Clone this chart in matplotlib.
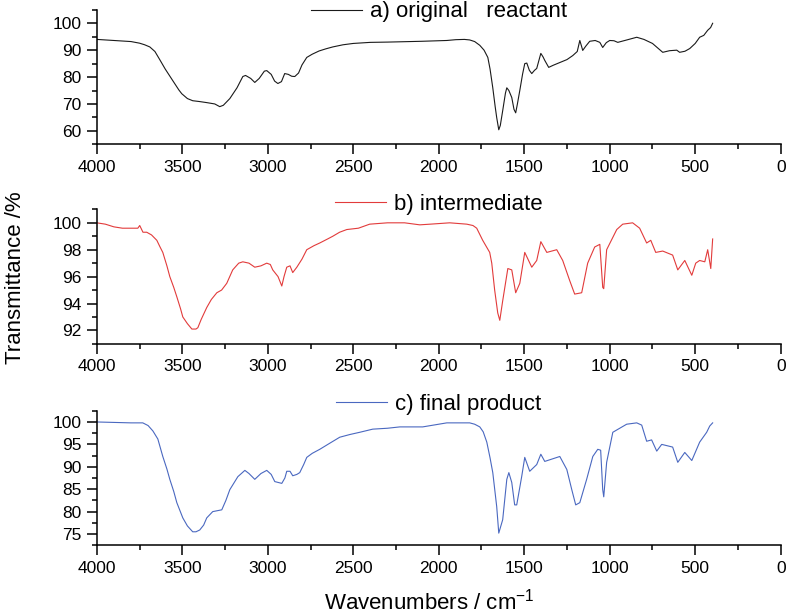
import numpy as np
import matplotlib
matplotlib.use("Agg")
import matplotlib.pyplot as plt
from matplotlib.ticker import MultipleLocator

plt.rcParams['font.family'] = ['Liberation Sans', 'DejaVu Sans']
plt.rcParams['mathtext.fontset'] = 'custom'
plt.rcParams['mathtext.rm'] = 'Liberation Sans'
plt.rcParams['mathtext.default'] = 'regular'

# Spectrum a) original reactant
wn_a = [4000, 3900, 3800, 3750, 3720, 3690, 3660, 3632, 3600, 3556, 3520, 3503, 3470,
        3439, 3400, 3357, 3310, 3281, 3260, 3222, 3180, 3146, 3130, 3100, 3076, 3050,
        3020, 3006, 2980, 2960, 2941, 2920, 2901, 2880, 2860, 2842, 2820, 2800, 2772,
        2740, 2700, 2660, 2620, 2560, 2500, 2400, 2300, 2100, 1953, 1900, 1850, 1819,
        1790, 1760, 1735, 1713, 1700, 1684, 1670, 1661, 1649, 1640, 1626, 1610, 1602,
        1590, 1573, 1560, 1550, 1540, 1526, 1510, 1497, 1485, 1470, 1456, 1440, 1427,
        1415, 1403, 1390, 1380, 1357, 1330, 1292, 1250, 1216, 1190, 1175, 1165, 1158,
        1140, 1117, 1085, 1058, 1041, 1020, 1000, 975, 953, 900, 842, 800, 750, 690,
        650, 608, 591, 560, 532, 500, 474, 450, 427, 410, 398]
tr_a = [94.0, 93.6, 93.2, 92.6, 92.0, 91.2, 89.5, 86.5, 83.0, 78.7, 75.2, 73.8, 72.0,
        71.2, 70.9, 70.5, 70.0, 69.0, 69.5, 72.0, 76.0, 80.2, 80.6, 79.5, 78.0, 79.5,
        82.2, 82.4, 81.0, 78.5, 77.6, 78.3, 81.3, 81.0, 80.3, 80.2, 81.5, 84.5, 87.3,
        88.5, 89.7, 90.5, 91.2, 92.0, 92.5, 92.9, 93.0, 93.3, 93.6, 93.9, 94.0, 93.8,
        93.2, 91.8, 90.0, 87.3, 83.0, 76.0, 69.0, 64.9, 60.4, 62.0, 67.5, 74.0, 76.0,
        75.0, 72.4, 68.0, 66.7, 70.0, 75.0, 81.0, 85.0, 85.2, 82.5, 81.3, 82.5, 83.2,
        86.0, 88.8, 87.5, 86.2, 83.6, 84.4, 85.4, 86.5, 88.0, 89.5, 93.6, 91.5, 89.9,
        91.5, 93.3, 93.6, 92.9, 91.0, 92.8, 93.6, 93.5, 92.9, 93.8, 94.8, 94.0, 92.5, 89.2,
        89.8, 90.0, 89.2, 89.6, 90.6, 92.5, 94.8, 95.5, 97.4, 98.4, 100.0]

# Spectrum b) intermediate
wn_b = [4000, 3950, 3900, 3850, 3800, 3760, 3749, 3730, 3708, 3680, 3649, 3630, 3614,
        3590, 3573, 3550, 3532, 3510, 3497, 3470, 3444, 3420, 3409, 3390, 3357, 3330,
        3298, 3270, 3240, 3205, 3170, 3146, 3110, 3076, 3040, 3006, 2985, 2971, 2940,
        2918, 2905, 2889, 2870, 2854, 2830, 2800, 2772, 2730, 2696, 2650, 2620, 2580,
        2538, 2470, 2404, 2300, 2200, 2111, 2050, 1936, 1836, 1800, 1778, 1743, 1702,
        1690, 1673, 1655, 1643, 1626, 1596, 1573, 1550, 1526, 1497, 1456, 1427, 1403,
        1368, 1310, 1275, 1234, 1205, 1164, 1129, 1088, 1058, 1041, 1035, 1018, 959,
        924, 866, 825, 784, 760, 731, 690, 632, 602, 561, 520, 497, 474, 444, 427, 409,
        398]
tr_b = [100.0, 99.9, 99.7, 99.6, 99.6, 99.6, 99.8, 99.3, 99.3, 99.1, 98.7, 98.2, 97.8,
        96.8, 96.0, 95.2, 94.5, 93.6, 93.0, 92.5, 92.1, 92.1, 92.2, 92.8, 93.7, 94.3,
        94.8, 95.0, 95.5, 96.5, 97.0, 97.1, 97.0, 96.7, 96.8, 97.0, 96.9, 96.5, 96.0,
        95.3, 96.0, 96.7, 96.8, 96.3, 96.7, 97.3, 98.0, 98.3, 98.5, 98.8, 99.0, 99.3,
        99.5, 99.6, 99.9, 100.0, 100.0, 99.85, 99.9, 100.0, 99.9, 99.8, 99.6, 98.7, 97.8,
        97.0, 95.0, 93.3, 92.75, 94.2, 96.6, 96.5, 94.8, 95.5, 97.8, 96.7, 97.2, 98.6,
        97.8, 98.0, 97.2, 95.7, 94.7, 94.8, 97.0, 98.2, 98.4, 95.2, 95.1, 98.0, 99.5,
        99.9, 100.0, 99.6, 98.5, 98.7, 97.8, 97.9, 97.6, 96.5, 97.2, 96.1, 97.0, 97.2,
        97.1, 98.0, 96.6, 98.8]

# Spectrum c) final product
wn_c = [4000, 3900, 3800, 3731, 3700, 3672, 3643, 3614, 3590, 3573, 3550, 3532, 3497,
        3470, 3439, 3420, 3398, 3375, 3357, 3322, 3269, 3245, 3222, 3175, 3134, 3110,
        3076, 3040, 3006, 2980, 2959, 2918, 2900, 2889, 2870, 2854, 2830, 2813, 2790,
        2772, 2740, 2696, 2640, 2579, 2520, 2462, 2386, 2300, 2228, 2094, 2000, 1953,
        1819, 1790, 1760, 1740, 1719, 1700, 1684, 1661, 1649, 1626, 1602, 1590, 1573,
        1556, 1544, 1515, 1497, 1468, 1427, 1403, 1380, 1292, 1251, 1222, 1199, 1175,
        1135, 1099, 1070, 1053, 1041, 1035, 1018, 982, 901, 842, 813, 784, 755, 725,
        696, 632, 602, 561, 520, 474, 433, 415, 398]
tr_c = [100.0, 99.9, 99.8, 99.8, 99.2, 98.0, 96.2, 92.3, 89.5, 87.2, 84.5, 82.0, 78.6,
        76.8, 75.5, 75.5, 75.9, 77.0, 78.6, 80.0, 80.4, 82.5, 84.9, 87.8, 89.2, 88.5,
        87.2, 88.5, 89.2, 88.3, 86.7, 86.3, 87.5, 89.0, 89.0, 88.0, 88.3, 88.7, 90.5,
        92.1, 93.0, 93.9, 95.2, 96.6, 97.2, 97.7, 98.4, 98.6, 98.9, 98.9, 99.5, 99.8,
        99.8, 99.5, 98.9, 97.8, 95.5, 92.0, 88.7, 81.1, 75.2, 78.2, 87.2, 88.7, 86.5,
        81.5, 81.5, 87.8, 92.1, 89.0, 90.5, 92.8, 91.2, 92.3, 89.4, 84.9, 81.5, 82.0,
        87.2, 92.3, 93.9, 93.7, 84.9, 83.3, 91.0, 97.7, 99.5, 99.8, 99.3, 95.7, 96.0,
        93.5, 95.0, 94.4, 91.0, 93.2, 91.4, 95.5, 97.7, 99.1, 99.8]

labels = ["a) original   reactant", "b) intermediate", "c) final product"]
colors = ["#1a1a1a", "#e23b3b", "#4a68c0"]
ylims = [(55, 105), (91, 101), (72.5, 102.5)]
ymajor = [10, 2, 5]

fig = plt.figure(figsize=(7.87, 6.14), dpi=100)
left, width = 0.123, 0.869
bottoms = [0.765, 0.440, 0.112]
height = 0.219
leg_y = [0.985, 1.035, 1.05]

series = [(wn_a, tr_a), (wn_b, tr_b), (wn_c, tr_c)]
for i, (wn, tr) in enumerate(series):
    ax = fig.add_axes([left, bottoms[i], width, height])
    ax.plot(wn, tr, color=colors[i], lw=0.8, label=labels[i])
    ax.set_xlim(4000, 0)
    ax.set_ylim(*ylims[i])
    ax.xaxis.set_major_locator(MultipleLocator(500))
    ax.xaxis.set_minor_locator(MultipleLocator(250))
    ax.yaxis.set_major_locator(MultipleLocator(ymajor[i]))
    ax.yaxis.set_minor_locator(MultipleLocator(ymajor[i] / 2))
    ax.spines['top'].set_visible(False)
    ax.spines['right'].set_visible(False)
    for s in ['left', 'bottom']:
        ax.spines[s].set_linewidth(1.1)
    ax.tick_params(which='major', direction='out', length=7, width=1.1,
                   labelsize=12.5, pad=4)
    ax.tick_params(which='minor', direction='out', length=3.5, width=1.1)
    ax.legend(frameon=False, loc='center', bbox_to_anchor=(0.5, leg_y[i]),
              fontsize=16, handlelength=2.3, handletextpad=0.35,
              borderpad=0, borderaxespad=0)

fig.text(0.02, 0.547, "Transmittance /%", rotation=90, fontsize=16,
         ha='center', va='center')
fig.text(0.546, 0.02, "Wavenumbers / cm$^{-1}$", fontsize=16,
         ha='center', va='center')

fig.savefig("out.png", dpi=100)
